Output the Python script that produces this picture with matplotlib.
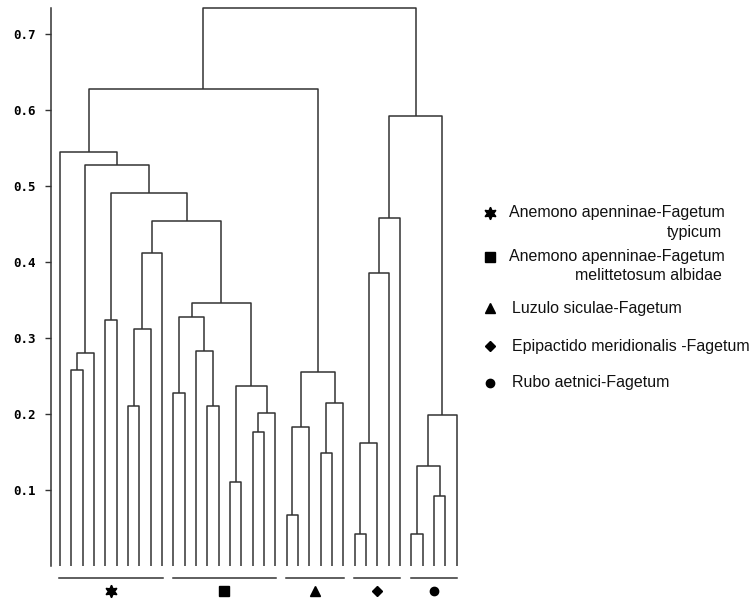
import numpy as np
import matplotlib
matplotlib.use('Agg')
import matplotlib.pyplot as plt

# merges: (left child, right child, height); leaves are 0..35, new clusters get 36, 37, ...
merges = [
    (1, 2, 0.258), (36, 3, 0.280), (4, 5, 0.324), (6, 7, 0.211),
    (39, 8, 0.312), (40, 9, 0.412),
    (10, 11, 0.228), (13, 14, 0.211), (12, 43, 0.283), (42, 44, 0.328),
    (15, 16, 0.111), (17, 18, 0.176), (47, 19, 0.201), (46, 48, 0.237),
    (45, 49, 0.346), (41, 50, 0.454), (38, 51, 0.491), (37, 52, 0.528),
    (0, 53, 0.545),
    (20, 21, 0.067), (55, 22, 0.183), (23, 24, 0.149), (57, 25, 0.214),
    (56, 58, 0.255), (54, 59, 0.627),
    (26, 27, 0.042), (61, 28, 0.162), (62, 29, 0.385), (63, 30, 0.458),
    (31, 32, 0.042), (33, 34, 0.092), (65, 66, 0.132), (67, 35, 0.198),
    (64, 68, 0.592), (60, 69, 0.734),
]
n_leaves = 36

# groups of leaves (first, last) with symbol and name
group_first = [0, 10, 20, 26, 31]
group_last = [9, 19, 25, 30, 35]
group_marker = [(6, 1, 0), 's', '^', 'D', 'o']
group_name = ['Anemono apenninae-Fagetum\ntypicum',
              'Anemono apenninae-Fagetum\nmelittetosum albidae',
              'Luzulo siculae-Fagetum',
              'Epipactido meridionalis -Fagetum',
              'Rubo aetnici-Fagetum']

yticks = [0.1, 0.2, 0.3, 0.4, 0.5, 0.6, 0.7]

msize = {(6, 1, 0): 9, 's': 6.5, '^': 7.5, 'D': 5.5, 'o': 6}

W, H = 755, 600
fig = plt.figure(figsize=(W / 100, H / 100), dpi=100)
# axes placed in pixels: left spine at x=51, top at y=8, base at y=566
x0, x1, ytop, ybot = 51, 470, 8, 566
ax = fig.add_axes([x0 / W, 1 - ybot / H, (x1 - x0) / W, (ybot - ytop) / H])

lc = '#333333'
xs = list(np.arange(n_leaves, dtype=float))
ys = [0.0] * n_leaves
for a, b, h in merges:
    ax.plot([xs[a], xs[a], xs[b], xs[b]], [ys[a], h, h, ys[b]],
            color=lc, lw=1.1, solid_capstyle='butt', clip_on=False)
    xs.append((xs[a] + xs[b]) / 2)
    ys.append(h)

# leaf spacing 11.33 px; leaf 0 at x=60
px = 11.33
ax.set_xlim(-(60 - x0) / px, -(60 - x0) / px + (x1 - x0) / px)
ax.set_ylim(0, 0.734)

for f, l, m in zip(group_first, group_last, group_marker):
    ax.plot([f - 0.05, l + 0.05], [-0.0154, -0.0154], color=lc, lw=1.1, clip_on=False)
    ax.plot([(f + l) / 2], [-0.033], marker=m, color='black', ms=msize[m],
            ls='none', clip_on=False)

for s in ['top', 'right', 'bottom']:
    ax.spines[s].set_visible(False)
ax.spines['left'].set_color(lc)
ax.spines['left'].set_linewidth(1.1)
ax.set_xticks([])
ax.set_yticks(yticks)
ax.set_yticklabels(['%.1f' % v for v in yticks], family='DejaVu Sans Mono',
                   fontweight='bold', fontsize=9)
ax.tick_params(axis='y', length=4, width=1, color=lc, pad=7)

# legend drawn by hand on the right
leg_y = [213, 257, 308, 346, 383]
for i in range(len(group_name)):
    y = leg_y[i]
    m = group_marker[i]
    fig.lines.append(plt.Line2D([490 / W], [1 - y / H], marker=m, color='black',
                                ms=msize[m], ls='none',
                                transform=fig.transFigure))
    parts = group_name[i].split('\n')
    tx = 509 if len(parts) > 1 else 512
    fig.text(tx / W, 1 - y / H, parts[0], family='Liberation Sans', fontsize=11.5,
             va='center', ha='left', color='#111111')
    if len(parts) > 1:
        fig.text(722 / W, 1 - (y + 19) / H, parts[1], family='Liberation Sans',
                 fontsize=11.5, va='center', ha='right', color='#111111')

fig.savefig('out.png', dpi=100)
